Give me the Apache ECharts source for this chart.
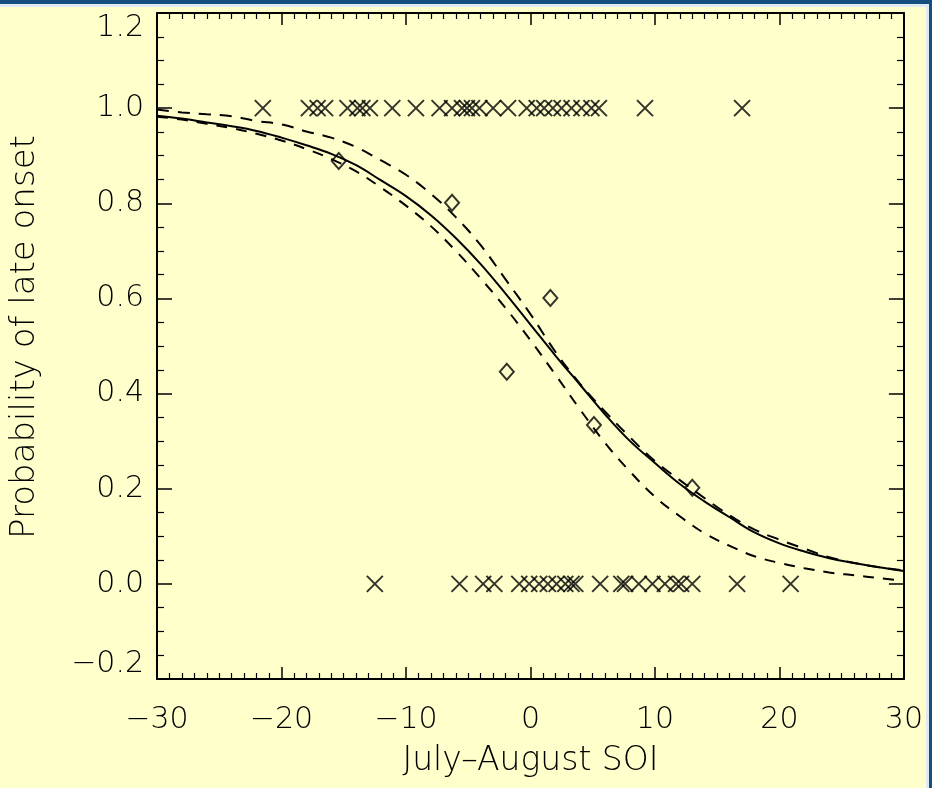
<!DOCTYPE html>
<html>
<head>
<meta charset="utf-8">
<script src="https://cdn.jsdelivr.net/npm/echarts@6/dist/echarts.min.js"></script>
<style>
  html, body { margin: 0; padding: 0; width: 932px; height: 788px; overflow: hidden; background: #154f80; }
  #frame { position: absolute; left: 0; top: 4px; width: 929px; height: 784px; background: #dfeaf3; }
  #chart { position: absolute; left: 0; top: 7px; width: 926px; height: 781px; background: #FFFFCC; }
</style>
</head>
<body>
<div id="frame"></div>
<div id="chart"></div>
<script>
// Curve sample positions (July-August SOI)
const curveX = [-30,-28,-26,-24,-22,-20,-18,-16,-14,-12,-10,-8,-6,-4,-2,0,2,4,6,8,10,12,14,16,18,20,22,24,26,28,30];
// Fitted probability (solid)
const fitProb = [0.984,0.978,0.970,0.962,0.952,0.938,0.922,0.904,0.880,0.848,0.815,0.775,0.727,0.672,0.610,0.545,0.480,0.418,0.356,0.300,0.254,0.210,0.173,0.140,0.108,0.085,0.068,0.054,0.044,0.035,0.027];
// Upper dashed band
const upperProb = [0.997,0.991,0.987,0.983,0.973,0.966,0.951,0.938,0.918,0.890,0.860,0.820,0.771,0.712,0.640,0.567,0.488,0.420,0.362,0.308,0.258,0.218,0.180,0.144,0.114,0.093,0.074,0.056,0.044,0.035,0.028];
// Lower dashed band
const lowerProb = [0.982,0.976,0.967,0.958,0.946,0.932,0.914,0.893,0.867,0.833,0.795,0.752,0.700,0.642,0.580,0.512,0.440,0.366,0.296,0.236,0.183,0.142,0.106,0.080,0.058,0.044,0.033,0.024,0.018,0.012,0.006];
// Years with late onset (plotted at 1.0)
const lateSOI = [-21.5,-17.8,-17.1,-16.5,-14.7,-13.9,-13.5,-12.9,-11.1,-9.2,-7.3,-6.3,-5.5,-5.1,-4.7,-4.1,-3.0,-1.8,-0.3,0.5,1.1,1.8,2.5,3.3,4.1,4.9,5.5,9.2,17.0];
const lateValue = 1.0;
// Years with normal onset (plotted at 0.0)
const earlySOI = [-12.5,-5.7,-3.8,-2.9,-0.9,-0.1,0.7,1.4,2.1,2.8,3.3,3.6,5.6,7.3,7.6,8.7,9.8,10.8,11.7,12.1,13.0,16.6,20.9];
const earlyValue = 0.0;
// Binned observed frequencies (diamonds)
const binSOI = [-15.4,-6.3,-1.9,1.6,5.1,13.0];
const binProb = [0.889,0.801,0.446,0.601,0.334,0.202];

const xTitle = 'July–August SOI';
const yTitle = 'Probability of late onset';

const FONT = 'DejaVu Sans';
const fmtMinus = s => String(s).replace('-', '−');

const chart = echarts.init(document.getElementById('chart'), null, {renderer: 'canvas'});

const lineCommon = {show: true, onZero: false, lineStyle: {color: '#000', width: 2}};

const option = {
  animation: false,
  backgroundColor: '#FFFFCC',
  grid: {left: 156, right: 20, top: 6, bottom: 109, containLabel: false},
  xAxis: [
    {
      type: 'value', position: 'bottom', min: -30, max: 30, interval: 10,
      axisLine: lineCommon, splitLine: {show: false},
      axisTick: {show: true, inside: true, length: 12, lineStyle: {color: '#000', width: 1.5}},
      minorTick: {show: true, splitNumber: 10, length: 6, lineStyle: {color: '#000', width: 1.2}},
      axisLabel: {show: true, margin: 26, color: '#000', fontFamily: FONT, fontSize: 30, fontWeight: 200,
        formatter: v => fmtMinus(v)},
      name: xTitle, nameLocation: 'middle', nameGap: 66,
      nameTextStyle: {color: '#000', fontFamily: FONT, fontSize: 33, fontWeight: 200}
    },
    {
      type: 'value', position: 'top', min: -30, max: 30, interval: 10,
      axisLine: lineCommon, splitLine: {show: false},
      axisTick: {show: true, inside: true, length: 12, lineStyle: {color: '#000', width: 1.5}},
      minorTick: {show: true, splitNumber: 10, length: 6, lineStyle: {color: '#000', width: 1.2}},
      axisLabel: {show: false}
    }
  ],
  yAxis: [
    {
      type: 'value', position: 'left', min: -0.2, max: 1.2, interval: 0.2,
      axisLine: lineCommon, splitLine: {show: false},
      axisTick: {show: true, inside: true, length: 15, lineStyle: {color: '#000', width: 1.5}},
      minorTick: {show: true, splitNumber: 4, length: 7, lineStyle: {color: '#000', width: 1.2}},
      axisLabel: {show: true, margin: 13, color: '#000', fontFamily: FONT, fontSize: 30, fontWeight: 200,
        verticalAlignMaxLabel: 'top', verticalAlignMinLabel: 'bottom',
        formatter: v => fmtMinus(Number(v).toFixed(1))},
      name: yTitle, nameLocation: 'middle', nameGap: 115, nameRotate: 90,
      nameTextStyle: {color: '#000', fontFamily: FONT, fontSize: 34, fontWeight: 200, padding: [0, 0, 0, 18]}
    },
    {
      type: 'value', position: 'right', min: -0.2, max: 1.2, interval: 0.2,
      axisLine: lineCommon, splitLine: {show: false},
      axisTick: {show: true, inside: true, length: 15, lineStyle: {color: '#000', width: 1.5}},
      minorTick: {show: true, splitNumber: 4, length: 7, lineStyle: {color: '#000', width: 1.2}},
      axisLabel: {show: false}
    }
  ],
  series: [
    {
      type: 'line', name: 'fit', xAxisIndex: 0, yAxisIndex: 0,
      data: curveX.map((x, i) => [x, fitProb[i]]),
      smooth: 0.4, showSymbol: false, symbol: 'none',
      lineStyle: {color: '#000', width: 2}
    },
    {
      type: 'line', name: 'upper', xAxisIndex: 0, yAxisIndex: 0,
      data: curveX.map((x, i) => [x, upperProb[i]]),
      smooth: 0.4, showSymbol: false, symbol: 'none',
      lineStyle: {color: '#000', width: 2, type: [12, 9]}
    },
    {
      type: 'line', name: 'lower', xAxisIndex: 0, yAxisIndex: 0,
      data: curveX.map((x, i) => [x, lowerProb[i]]),
      smooth: 0.4, showSymbol: false, symbol: 'none',
      lineStyle: {color: '#000', width: 2, type: [11, 9]}
    },
    {
      type: 'scatter', name: 'late', xAxisIndex: 0, yAxisIndex: 0,
      data: lateSOI.map(x => [x, lateValue]),
      symbol: 'path://M0,0L10,10M10,0L0,10', symbolSize: 16,
      itemStyle: {color: 'transparent', borderColor: '#000', borderWidth: 2}
    },
    {
      type: 'scatter', name: 'early', xAxisIndex: 0, yAxisIndex: 0,
      data: earlySOI.map(x => [x, earlyValue]),
      symbol: 'path://M0,0L10,10M10,0L0,10', symbolSize: 16,
      itemStyle: {color: 'transparent', borderColor: '#000', borderWidth: 2}
    },
    {
      type: 'scatter', name: 'bins', xAxisIndex: 0, yAxisIndex: 0,
      data: binSOI.map((x, i) => [x, binProb[i]]),
      symbol: 'diamond', symbolSize: [14, 16],
      itemStyle: {color: 'transparent', borderColor: '#000', borderWidth: 2}
    }
  ]
};
chart.setOption(option);
</script>
</body>
</html>
